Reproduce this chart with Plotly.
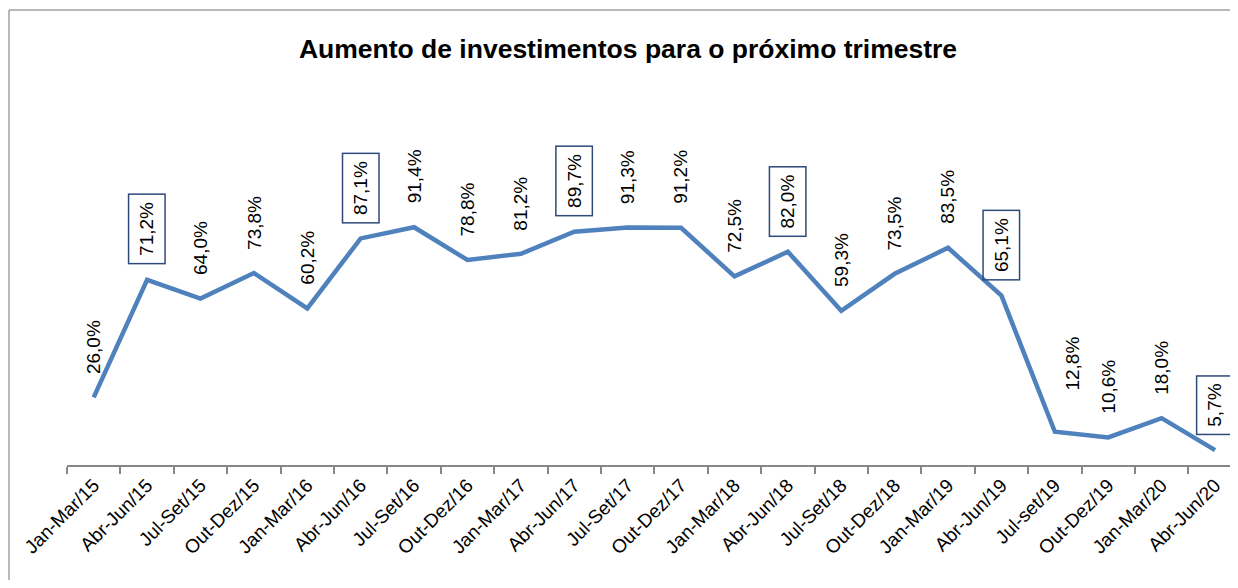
import plotly.graph_objects as go

# trimestres e % de empresas com aumento de investimento
trimestres = ["Jan-Mar/15", "Abr-Jun/15", "Jul-Set/15", "Out-Dez/15",
              "Jan-Mar/16", "Abr-Jun/16", "Jul-Set/16", "Out-Dez/16",
              "Jan-Mar/17", "Abr-Jun/17", "Jul-Set/17", "Out-Dez/17",
              "Jan-Mar/18", "Abr-Jun/18", "Jul-Set/18", "Out-Dez/18",
              "Jan-Mar/19", "Abr-Jun/19", "Jul-set/19", "Out-Dez/19",
              "Jan-Mar/20", "Abr-Jun/20"]
valores = [26.0, 71.2, 64.0, 73.8, 60.2, 87.1, 91.4, 78.8, 81.2, 89.7, 91.3,
           91.2, 72.5, 82.0, 59.3, 73.5, 83.5, 65.1, 12.8, 10.6, 18.0, 5.7]
# rótulos com caixa (Abr-Jun de cada ano)
destaque = ["Abr-Jun/15", "Abr-Jun/16", "Abr-Jun/17", "Abr-Jun/18",
            "Abr-Jun/19", "Abr-Jun/20"]

titulo = "Aumento de investimentos para o próximo trimestre"

# a página tem 8px de margem no body, a figura fica menor para não rolar
W, H = 1230, 572
left, top, bottom = 59, 72, 115

fig = go.Figure()
fig.add_trace(go.Scatter(x=trimestres, y=valores, mode="lines",
                         line=dict(color="#4F81BD", width=4.5),
                         hoverinfo="skip"))

anns = []
for cat, v in zip(trimestres, valores):
    txt = f"{v:.1f}".replace(".", ",") + "%"
    xs, ys = 0, 15
    if cat == "Jul-set/19":  # rótulo deslocado como no original
        xs, ys = 18, 33
    anns.append(dict(x=cat, y=v, text=txt, showarrow=False, textangle=-90,
                     xanchor="center", yanchor="bottom", xshift=xs, yshift=ys,
                     font=dict(family="Liberation Sans, Arial", size=19,
                               color="black"),
                     borderpad=7, borderwidth=1.5,
                     bordercolor="#2E4A7A" if cat in destaque else "rgba(0,0,0,0)"))

ph = H - top - bottom
pw = W - left
borda = dict(color="#A0A0A0", width=1.5)
fig.update_layout(
    width=W, height=H,
    margin=dict(l=left, r=0, t=top, b=bottom),
    paper_bgcolor="white", plot_bgcolor="white",
    showlegend=False,
    title=dict(text="<b>" + titulo + "</b>", x=620 / W, xanchor="center",
               y=1 - 41 / H, yanchor="middle",
               font=dict(family="Liberation Sans, Arial", size=26.5,
                         color="black")),
    xaxis=dict(type="category", range=[-0.5, 21.43], tickson="boundaries",
               showgrid=False, zeroline=False,
               showline=True, linecolor="#868686", linewidth=1.5,
               ticks="outside", ticklen=7, tickcolor="#868686", tickwidth=1.5,
               tickangle=-45,
               tickfont=dict(family="Liberation Sans, Arial", size=19,
                             color="black")),
    yaxis=dict(range=[0, 148], visible=False, showgrid=False),
    annotations=anns,
    # borda da área do gráfico (topo e esquerda)
    shapes=[dict(type="line", xref="paper", yref="paper",
                 x0=(1 - left) / pw, x1=1.0,
                 y0=(H - bottom - 2) / ph, y1=(H - bottom - 2) / ph,
                 line=borda),
            dict(type="line", xref="paper", yref="paper",
                 x0=(1 - left) / pw, x1=(1 - left) / pw,
                 y0=-(bottom + 5) / ph, y1=(H - bottom - 2) / ph,
                 line=borda)],
)

# sem barras de rolagem na página
fig.write_html("out.html", config={"displayModeBar": False},
               post_script="document.body.style.overflow='hidden';")
